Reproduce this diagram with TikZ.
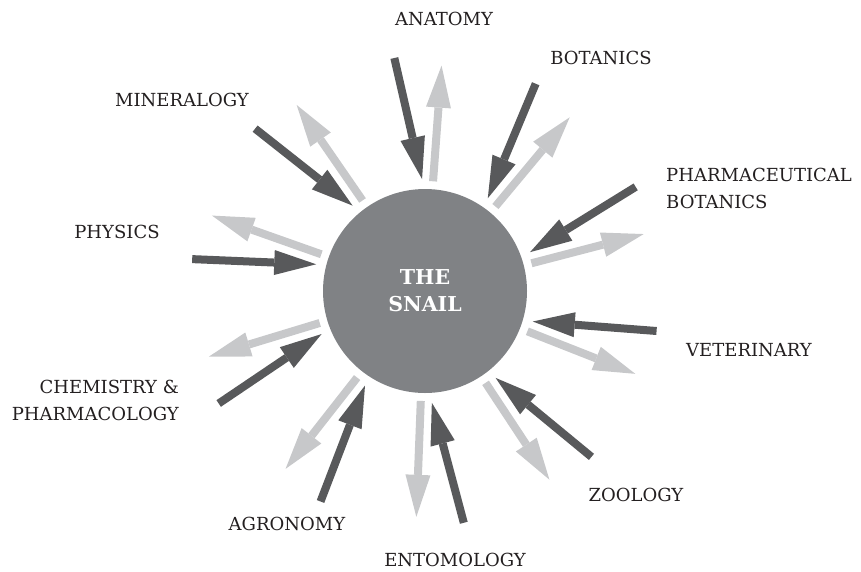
\documentclass[tikz,border=0pt]{standalone}
\usepackage{fontspec}
\setmainfont{DejaVu Serif}
\usetikzlibrary{arrows.meta}
\definecolor{snailgray}{HTML}{808285}
\definecolor{ingray}{HTML}{58595B}
\definecolor{outgray}{HTML}{C7C8CA}
\definecolor{inkblack}{HTML}{231F20}

\begin{document}
\begin{tikzpicture}[x=1pt, y=-1pt,
  inarrow/.style={line width=8pt, ingray, -{Triangle[length=42pt, width=25pt, line width=0pt]}},
  outarrow/.style={line width=8pt, outgray, -{Triangle[length=42pt, width=25pt, line width=0pt]}},
  field/.style={inner sep=0pt, text=inkblack, font=\fontsize{18}{27}\selectfont}]
\useasboundingbox (0,0) rectangle (861,571);
\node[circle, fill=snailgray, minimum size=204pt, inner sep=0pt, text=white, align=center,
  font=\bfseries\fontsize{20.5}{27}\selectfont] (snail) at (425,291) {THE\\SNAIL};
% one dark arrow in and one light arrow out per field, \a = where the dark tip points
\foreach \a in {91.5, 55.9, 20.3, -15.8, -50.9, -86.5, -122.4, -157.4, -193.8, -229.7} {
  \draw[inarrow] ([shift={(\a+6:235pt)}]snail.center) -- ([shift={(\a:112pt)}]snail.center);
  \draw[outarrow] ([shift={(\a-5.7:110pt)}]snail.center) -- ([shift={(\a-5.7:226pt)}]snail.center);
}
% field names
\node[field] (anatomy) at (444,19) {ANATOMY};
\node[field] (botanics) at (601,58) {BOTANICS};
\node[field, anchor=west, align=left] (pharmbot) at (666,188.5) {PHARMACEUTICAL\\BOTANICS};
\node[field] (veterinary) at (749,350) {VETERINARY};
\node[field] (zoology) at (636,495) {ZOOLOGY};
\node[field] (entomology) at (455,560) {ENTOMOLOGY};
\node[field] (agronomy) at (287,524) {AGRONOMY};
\node[field, anchor=east, align=right] (chemistry) at (179,400.5) {CHEMISTRY \&\\PHARMACOLOGY};
\node[field] (physics) at (117,232) {PHYSICS};
\node[field] (mineralogy) at (182,100) {MINERALOGY};
\end{tikzpicture}
\end{document}
